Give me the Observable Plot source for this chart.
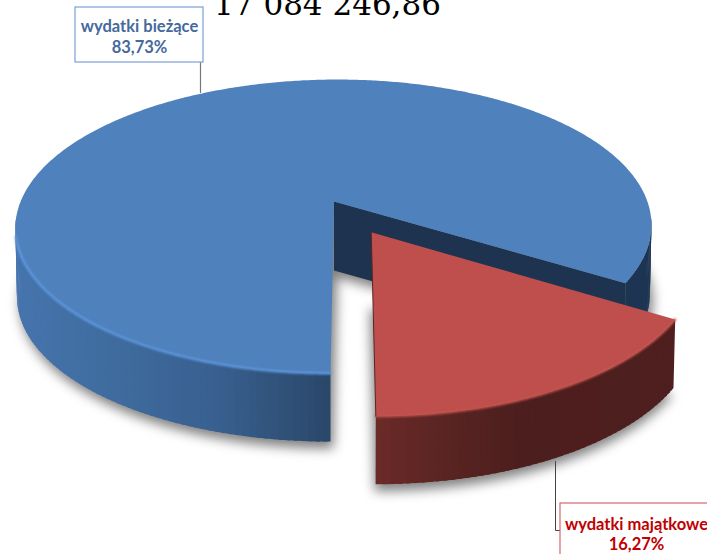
<!DOCTYPE html>
<html><head><meta charset="utf-8">
<script src="https://cdn.jsdelivr.net/npm/d3@7"></script>
<script src="https://cdn.jsdelivr.net/npm/@observablehq/plot@0.6"></script>
<style>
html,body{margin:0;padding:0;background:#fff;overflow:hidden}
svg{display:block}
</style></head><body>
<script>
const categories = ["wydatki bieżące", "wydatki majątkowe"];
const shares = [83.73, 16.27];
const shareLabels = ["83,73%", "16,27%"];
const titleText = "17 084 246,86";

// projection of the tilted disc
const cam = {cx: 333.5, cy: 201, R: 313.4, S: 142.7, p: 0.17, skew: 3.5, depth: 69, shrink: 0.995};
const explode = 0.239;
const toRad = (share) => share / 100 * 2 * Math.PI;
const redSpan = toRad(shares[1]);
const redMid = redSpan / 2;
const off = {u: explode * Math.sin(redMid), v: explode * Math.cos(redMid), r: 0.99};

function project(u, v, low = false) {
  const w = 1 - cam.p * v;
  const dx = cam.R * u / w - cam.skew * v, dy = cam.S * v / w;
  return low
    ? {x: cam.cx + dx * cam.shrink, y: cam.cy + cam.depth + dy * cam.shrink}
    : {x: cam.cx + dx, y: cam.cy + dy};
}
const rimPt = (t, o, low) => project(o.r * Math.sin(t) + o.u, o.r * Math.cos(t) + o.v, low);
const centre = (o, low) => project(o.u, o.v, low);
const none = {u: 0, v: 0, r: 1};
function arc(a, b, o, low, step = 0.01) {
  const n = Math.ceil(Math.abs(b - a) / step), pts = [];
  for (let i = 0; i <= n; i++) pts.push(rimPt(a + (b - a) * i / n, o, low));
  return pts;
}
const shift = (pts, dx, dy) => pts.map((p) => ({x: p.x + dx, y: p.y + dy}));

const blueA = redSpan, blueB = 2 * Math.PI;
const blueWallC = d3.scaleLinear().domain([15, 110, 220, 330, 620, 660]).range(["#4674ad", "#3f6c9f", "#385f8e", "#2a4769", "#1d3553", "#1d3553"]);
const redWallC = d3.scaleLinear().domain([374, 440, 520, 680]).range(["#6b2a28", "#5a2523", "#4c1e1d", "#4e1f1e"]);

const polygon = (pts, color, extra = {}) => Plot.line(pts, {x: "x", y: "y", fill: color, stroke: "none", curve: "linear", ...extra});
function wall(a, b, o, colorFn) {
  const step = 0.02, n = Math.ceil((b - a) / step), out = [];
  const dt = (b - a) / n;
  for (let i = 0; i < n; i++) {
    const t0 = a + dt * i, t1 = a + dt * (i + 1);
    if (Math.cos(t0 + dt / 2) < 0.1) continue; // far side of the disc, hidden
    const tEnd = Math.min(b, t1 + dt * 0.6); // each strip runs under the next, so no seams show
    const p0 = rimPt(t0, o), p1 = rimPt(tEnd, o), q1 = rimPt(tEnd, o, true), q0 = rimPt(t0, o, true);
    out.push(polygon([p0, p1, q1, q0, p0], colorFn((p0.x + rimPt(t1, o).x) / 2)));
  }
  return out;
}
const closed = (pts) => [...pts, pts[0]];
const blueTop = closed([centre(none), ...arc(blueA, blueB, none)]);
const blueBot = closed([centre(none, true), ...arc(blueA, blueB, none, true)]);
const redTop = closed([centre(off), ...arc(0, redSpan, off)]);
const redBot = closed([centre(off, true), ...arc(0, redSpan, off, true)]);
const cutWall = [centre(none), rimPt(blueA, none), rimPt(blueA, none, true), centre(none, true), centre(none)];

const blueRim = arc(4.95, 2 * Math.PI, none);
const redRim = arc(0, redSpan, off);
const edgeLine = [centre(off), rimPt(0, off)];
const blueLeader = [{x: 200, y: 62}, {x: 200, y: 92}];
const redLeader = [{x: 555, y: 461}, {x: 555, y: 530}, {x: 560, y: 530}];
const boxes = [
  {x1: 75, x2: 203, y1: 7, y2: 62, stroke: "#7ba0d6"},
  {x1: 560, x2: 720, y1: 503, y2: 570, stroke: "#d9666a"}
];
const labelFont = {fontFamily: "Lato", fontWeight: 700, fontSize: 16.5, lineAnchor: "middle"};
const blurred = (px) => ({imageFilter: `blur(${px}px)`});

const chart = Plot.plot({
  width: 707, height: 554, margin: 0,
  x: {domain: [0, 707], range: [0, 707], axis: null},
  y: {domain: [0, 554], range: [0, 554], axis: null},
  marks: [
    polygon(shift(blueBot, 3, 7), "#808080", blurred(6)),
    polygon(shift(redBot, -1, 7), "#808080", blurred(6)),
    ...wall(blueA, blueB, none, blueWallC),
    polygon(cutWall, "#1d3350"),
    polygon(blueTop, "#4f81bd"),
    ...wall(0, redSpan, off, redWallC),
    polygon(redTop, "#bf4f4c"),
    Plot.line(blueRim, {x: "x", y: "y", stroke: "#5f9ae2", strokeWidth: 2.2, curve: "linear", ...blurred(0.9)}),
    Plot.line(redRim, {x: "x", y: "y", stroke: "#c4544f", strokeWidth: 2.2, curve: "linear", ...blurred(0.9)}),
    Plot.line(edgeLine, {x: "x", y: "y", stroke: "#5b2523", strokeWidth: 1}),
    Plot.line(blueLeader, {x: "x", y: "y", stroke: "#777777", strokeWidth: 1.2}),
    Plot.line(redLeader, {x: "x", y: "y", stroke: "#444444", strokeWidth: 1}),
    Plot.rect(boxes, {x1: "x1", x2: "x2", y1: "y1", y2: "y2", fill: "white", stroke: "stroke", strokeWidth: 1.2}),
    Plot.text([titleText], {x: () => 327, y: () => 14, text: (d) => d, fontFamily: "DejaVu Serif", fontSize: 31, fill: "black", lineAnchor: "bottom"}),
    Plot.text([categories[0]], {x: () => 139, y: () => 26, text: (d) => d, fill: "#44699d", ...labelFont}),
    Plot.text([shareLabels[0]], {x: () => 139, y: () => 47, text: (d) => d, fill: "#44699d", ...labelFont}),
    Plot.text([categories[1]], {x: () => 636, y: () => 524, text: (d) => d, fill: "#c00000", ...labelFont}),
    Plot.text([shareLabels[1]], {x: () => 636, y: () => 544, text: (d) => d, fill: "#c00000", ...labelFont})
  ]
});
document.body.appendChild(chart);
</script>
</body></html>
